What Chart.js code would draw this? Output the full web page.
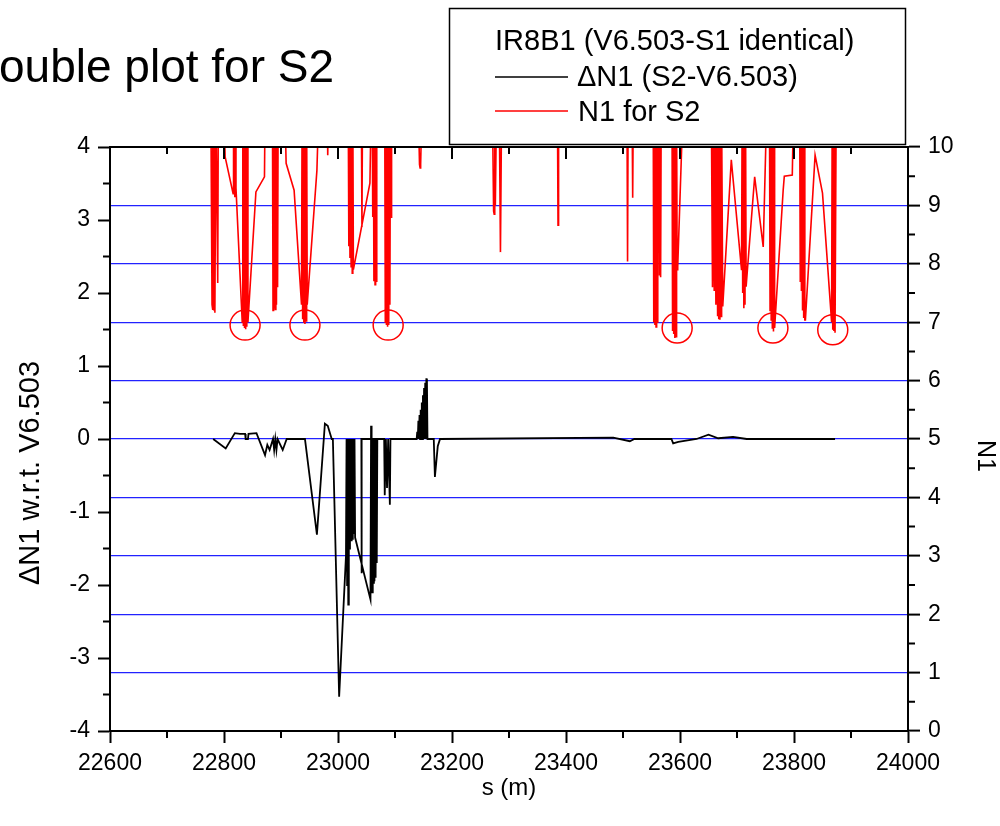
<!DOCTYPE html>
<html><head><meta charset="utf-8">
<script src="https://cdn.jsdelivr.net/npm/chart.js@4/dist/chart.umd.min.js"></script>
<style>html,body{margin:0;padding:0;background:#fff;}#wrap{width:1000px;height:826px;position:relative;}</style>
</head><body><div id="wrap"><canvas id="c" width="1000" height="826"></canvas></div>
<script>
// ---- Data ----
const pageTitle = "Double plot for S2";
const legendTitle = "IR8B1 (V6.503-S1 identical)";
const seriesNames = ["\u0394N1 (S2-V6.503)", "N1 for S2"];
const xTitle = "s (m)";
const leftTitle = "\u0394N1 w.r.t. V6.503";
const rightTitle = "N1";
const xTickLabels = ["22600","22800","23000","23200","23400","23600","23800","24000"];
const leftTickLabels = ["-4","-3","-2","-1","0","1","2","3","4"];
const rightTickLabels = ["0","1","2","3","4","5","6","7","8","9","10"];

// dN1 (left axis): [s, value]
const dN1Points = [[22781,0],[22803,-0.13],[22819,0.08],[22828,0.07],[22837,0.07],[22838,0],[22842,0],[22843,0.07],[22857,0.08],[22872,-0.22],[22876,-0.08],[22880,-0.15],[22886,0],[22888,-0.15],[22890,0],[22892,-0.15],[22894,0],[22903,-0.15],[22910,0],[22942,0],[22963,-1.31],[22977,0.21],[22982,0.18],[22989,0],[22991,0],[23002,-3.53],[23014,-1.6],[23015,0],[23016,-2.0],[23017,0],[23018,-2.27],[23019,0],[23020,-1.5],[23021,0],[23022,-1.38],[23023,0],[23024,-1.4],[23025,0],[23026,-1.38],[23027,0],[23028,-1.3],[23029,0],[23030,-1.35],[23057,-2.2],[23058,0.18],[23059,0],[23060,-2.1],[23061,0],[23062,-1.97],[23063,0],[23064,-1.95],[23065,0],[23066,-1.9],[23067,0],[23068,-1.7],[23069,0],[23041,0],[23041,-1.84],[23042,0],[23081,0],[23082,-0.77],[23084,0],[23086,-0.67],[23088,0],[23091,-0.9],[23092,0],[23138,0],[23139,0.1],[23140,0],[23141,0.25],[23142,0],[23143,0.33],[23144,0],[23145,0.4],[23146,0],[23147,0.5],[23148,0],[23149,0.6],[23150,0],[23151,0.7],[23152,0],[23153,0.77],[23154,0],[23155,0.82],[23156,0.83],[23157,0],[23168,0],[23170,-0.52],[23175,-0.1],[23179,0],[23483,0.02],[23512,-0.03],[23520,0],[23585,0],[23588,-0.06],[23597,-0.04],[23629,0],[23650,0.06],[23667,0.01],[23693,0.03],[23717,0],[23872,0]];

// N1 for S2 (right axis): [s, value]; values above 10 run off the top
const n1Points = [[22777,10.6],[22779,7.3],[22780,10.6],[22780.5,7.21],[22781.5,10.6],[22782,7.2],[22783,10.6],[22784,7.16],[22785,9.0],[22786,10.6],[22789,7.67],[22790,10.6],[22800,10.6],[22802,9.83],[22816,9.2],[22816.5,10.6],[22817,9.2],[22818,10.6],[22819,9.14],[22820,10.6],[22821,9.3],[22832,7.0],[22833,10.6],[22834,6.95],[22835,10.6],[22836,6.9],[22837,10.6],[22838,6.88],[22839,10.6],[22840,6.92],[22841,10.6],[22842,7.0],[22856,9.23],[22871,9.49],[22872,10.6],[22885,10.6],[22886,7.2],[22887,10.6],[22888,7.25],[22889,10.6],[22890,7.22],[22891,10.6],[22892,7.3],[22893,10.6],[22894,7.6],[22895,10.6],[22907,10.6],[22909,9.72],[22923,9.26],[22936,7.3],[22937,10.6],[22938,7.05],[22939,10.6],[22940,6.99],[22941,10.6],[22942,6.97],[22943,10.6],[22944,7.02],[22945,10.6],[22946,7.3],[22963,9.6],[22966,10.6],[22981,10.6],[22982,9.86],[22983,10.6],[23018,10.6],[23019,8.3],[23020,10.6],[23021,8.1],[23022,10.6],[23023,7.95],[23024,10.6],[23025,7.84],[23026,10.6],[23027,7.9],[23056,9.38],[23058,10.6],[23041,10.6],[23042,8.63],[23043,10.6],[23060,10.6],[23061,8.8],[23062,10.6],[23063,7.7],[23064,10.6],[23065,7.64],[23066,10.6],[23067,7.7],[23068,10.6],[23082,10.6],[23083,7.0],[23084,10.6],[23085,6.95],[23086,10.6],[23087,6.92],[23088,10.6],[23089,6.95],[23090,10.6],[23091,7.3],[23092,10.6],[23093,8.8],[23094,10.6],[23141,10.6],[23143,9.7],[23144,9.64],[23145,9.7],[23147,10.6],[23271,10.6],[23273,8.9],[23274,8.85],[23275,10.6],[23276,9.0],[23278,10.6],[23283,10.6],[23285,8.2],[23287,10.6],[23385,10.6],[23386,8.66],[23387,10.6],[23507,10.6],[23508,8.04],[23509,10.6],[23516,10.6],[23517,9.13],[23518,10.6],[23553,10.6],[23554,7.0],[23555,10.6],[23556,6.95],[23557,10.6],[23558,6.92],[23559,10.6],[23560,7.0],[23561,10.6],[23563,10.6],[23564,7.8],[23565,10.6],[23566,7.77],[23567,10.6],[23586,10.6],[23587,6.85],[23588,10.6],[23589,6.8],[23590,10.6],[23591,6.73],[23592,10.6],[23593,6.75],[23594,10.6],[23595,7.9],[23596,7.95],[23605,10.6],[23655,10.6],[23657,7.6],[23658,10.6],[23660,7.55],[23661,10.6],[23663,7.3],[23664,10.6],[23666,7.1],[23667,10.6],[23668,7.05],[23669,10.6],[23670,7.04],[23671,10.6],[23672,7.1],[23673,10.6],[23675,7.27],[23690,9.78],[23708,7.89],[23709,10.6],[23710,7.5],[23711,10.6],[23712,7.24],[23713,10.6],[23714,7.3],[23715,10.6],[23716,7.61],[23731,9.49],[23746,8.29],[23752,10.6],[23757,10.6],[23758,7.2],[23759,10.6],[23760,7.04],[23761,10.6],[23762,6.9],[23763,10.6],[23764,6.84],[23765,10.6],[23766,6.9],[23781,9.26],[23783,9.5],[23797,9.52],[23799,10.6],[23810,10.6],[23811,7.7],[23812,10.6],[23813,7.55],[23814,10.6],[23815,7.2],[23816,10.6],[23817,7.07],[23818,10.6],[23819,7.04],[23820,7.04],[23837,9.86],[23850,9.21],[23866,7.0],[23867,10.6],[23868,6.87],[23869,10.6],[23870,6.85],[23871,10.6],[23872,6.82],[23874,10.6]];

// circled minima (right axis)
const circlePoints = [[22837,6.95],[22942,6.95],[23088,6.95],[23595,6.9],[23763,6.9],[23868,6.87]];

const FONT = "'Liberation Sans', Arial, sans-serif";
const toXY = arr => arr.map(p => ({x: p[0], y: p[1]}));

const decor = {
  id: 'decor',
  afterDraw(chart) {
    const {ctx, chartArea: a, scales} = chart;
    ctx.save();
    ctx.strokeStyle = '#000';
    ctx.lineWidth = 2;
    ctx.beginPath(); ctx.moveTo(a.left - 1, a.top); ctx.lineTo(a.right + 1, a.top); ctx.stroke();
    ctx.beginPath();
    for (let v = -3.5; v < 4; v += 1) { const y = scales.y.getPixelForValue(v); ctx.moveTo(a.left - 7, y); ctx.lineTo(a.left, y); }
    for (let v = 0.5; v < 10; v += 1) { const y = scales.y2.getPixelForValue(v); ctx.moveTo(a.right, y); ctx.lineTo(a.right + 7, y); }
    for (let v = 22700; v < 24000; v += 200) { const x = scales.x.getPixelForValue(v); ctx.moveTo(x, a.bottom); ctx.lineTo(x, a.bottom + 7); }
    for (let v = 22700; v < 24000; v += 100) {
      const x = scales.x.getPixelForValue(v);
      const len = ((v - 22600) % 200 === 0) ? 12 : 7;
      ctx.moveTo(x, a.top); ctx.lineTo(x, a.top + len);
    }
    ctx.stroke();

    ctx.fillStyle = '#000';
    ctx.font = '46px ' + FONT;
    ctx.textBaseline = 'alphabetic';
    ctx.textAlign = 'left';
    const dW = ctx.measureText('D').width;
    ctx.fillText(pageTitle, -dW - 1, 82);

    ctx.fillStyle = '#fff';
    ctx.fillRect(449, 8, 457, 137);
    ctx.lineWidth = 1.5;
    ctx.strokeStyle = '#000';
    ctx.strokeRect(449.5, 8.5, 456, 136);
    ctx.fillStyle = '#000';
    ctx.font = '29px ' + FONT;
    ctx.fillText(legendTitle, 495, 50);
    const ds = chart.data.datasets;
    ctx.lineWidth = 1.5;
    ctx.strokeStyle = ds[0].borderColor;
    ctx.beginPath(); ctx.moveTo(495, 77); ctx.lineTo(568, 77); ctx.stroke();
    ctx.fillText(ds[0].label, 577, 86);
    ctx.strokeStyle = ds[1].borderColor;
    ctx.beginPath(); ctx.moveTo(495, 111); ctx.lineTo(568, 111); ctx.stroke();
    ctx.fillText(ds[1].label, 578, 121);

    ctx.textAlign = 'center';
    ctx.textBaseline = 'middle';
    ctx.font = '29px ' + FONT;
    ctx.save();
    ctx.translate(31, 473);
    ctx.rotate(-Math.PI / 2);
    ctx.fillText(leftTitle, 0, 0);
    ctx.restore();
    ctx.font = '25px ' + FONT;
    ctx.save();
    ctx.translate(985, 456);
    ctx.rotate(Math.PI / 2);
    ctx.fillText(rightTitle, 0, 0);
    ctx.restore();
    ctx.restore();
  }
};

const tickFont = {family: FONT, size: 23};

new Chart(document.getElementById('c'), {
  type: 'line',
  data: {
    datasets: [
      {label: seriesNames[0], data: toXY(dN1Points), yAxisID: 'y', borderColor: '#000000', borderWidth: 1.8, pointRadius: 0, tension: 0, fill: false},
      {label: seriesNames[1], data: toXY(n1Points), yAxisID: 'y2', borderColor: '#ff0000', borderWidth: 1.6, pointRadius: 0, tension: 0, fill: false},
      {label: 'circles', data: toXY(circlePoints), yAxisID: 'y2', showLine: false, pointRadius: 15, pointHoverRadius: 15, pointBorderColor: '#ff0000', pointBackgroundColor: 'rgba(0,0,0,0)', pointBorderWidth: 1.5, borderColor: '#ff0000'}
    ]
  },
  options: {
    responsive: false,
    animation: false,
    devicePixelRatio: 1,
    layout: {padding: {top: 147, left: 0, right: 0, bottom: 0}},
    plugins: {legend: {display: false}, title: {display: false}, tooltip: {enabled: false}},
    scales: {
      x: {
        type: 'linear', position: 'bottom', min: 22600, max: 24000,
        afterFit: s => { s.height = 95; },
        ticks: {stepSize: 200, autoSkip: false, maxRotation: 0, color: '#000', font: tickFont, padding: 7,
                callback: (v) => xTickLabels[Math.round((v - 22600) / 200)] ?? ''},
        grid: {drawOnChartArea: false, drawTicks: true, tickLength: 12, tickColor: '#000', tickWidth: 2},
        border: {color: '#000', width: 2},
        title: {display: true, text: xTitle, color: '#000', font: {family: FONT, size: 24}, padding: {top: 0, bottom: 23}}
      },
      y: {
        type: 'linear', position: 'left', min: -4, max: 4,
        afterFit: s => { s.width = 110; },
        ticks: {stepSize: 1, color: '#000', font: tickFont, padding: 8,
                callback: (v) => leftTickLabels[Math.round(v + 4)] ?? ''},
        grid: {drawOnChartArea: false, drawTicks: true, tickLength: 12, tickColor: '#000', tickWidth: 2},
        border: {color: '#000', width: 2}
      },
      y2: {
        type: 'linear', position: 'right', min: 0, max: 10,
        afterFit: s => { s.width = 92; },
        ticks: {stepSize: 1, color: '#000', font: tickFont, padding: 8,
                callback: (v) => rightTickLabels[Math.round(v)] ?? ''},
        grid: {drawOnChartArea: true, drawTicks: true, tickLength: 12, tickColor: '#000', tickWidth: 2, lineWidth: 1.2,
               color: (c) => (c.tick && (c.tick.value === 0 || c.tick.value === 10)) ? 'rgba(0,0,0,0)' : '#2222ff'},
        border: {color: '#000', width: 2}
      }
    }
  },
  plugins: [decor]
});
</script>
</body></html>
